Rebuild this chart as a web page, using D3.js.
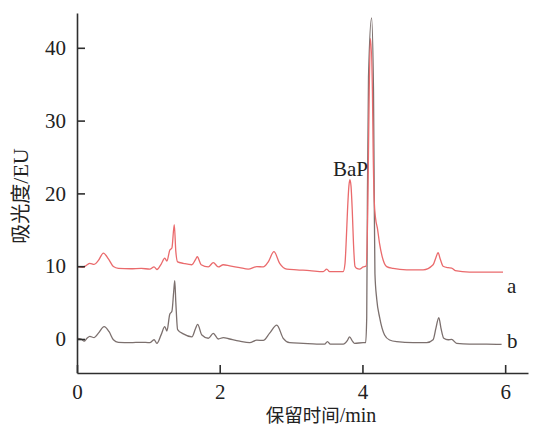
<!DOCTYPE html>
<html>
<head>
<meta charset="utf-8">
<script src="https://cdn.jsdelivr.net/npm/d3@7"></script>
<style>
  html, body { margin: 0; padding: 0; background: #ffffff; }
  svg { display: block; }
</style>
</head>
<body>
<svg id="chart" width="537" height="428"></svg>
<script>
// ---- data ----
const xTicks = [0, 2, 4, 6];
const yTicks = [0, 10, 20, 30, 40];

// trace a (red), retention time (min)
const timeA = [0.00,0.08,0.13,0.18,0.24,0.30,0.37,0.44,0.51,0.58,0.75,0.90,1.02,1.08,1.12,1.18,1.23,1.26,1.30,1.33,1.363,1.385,1.41,1.49,1.61,1.66,1.685,1.74,1.84,1.91,1.98,2.05,2.14,2.28,2.40,2.52,2.61,2.68,2.76,2.84,2.94,3.08,3.26,3.45,3.50,3.54,3.73,3.755,3.775,3.79,3.81,3.824,3.84,3.858,3.875,3.895,3.92,3.96,4.01,4.05,4.075,4.085,4.095,4.113,4.14,4.15,4.165,4.185,4.21,4.24,4.29,4.34,4.43,4.62,4.85,4.99,5.03,5.06,5.09,5.13,5.20,5.25,5.30,5.50,5.74,5.97];
const valA  = [9.95,9.85,10.1,10.4,10.25,10.8,11.8,11.0,9.95,9.7,9.65,9.7,9.6,9.9,9.55,10.3,11.1,10.7,12.2,12.5,15.7,12.0,10.6,10.4,10.2,10.9,11.3,10.2,9.9,10.5,9.9,10.2,10.05,9.8,9.6,9.95,9.9,10.6,12.0,10.4,9.6,9.5,9.4,9.25,9.6,9.25,9.25,10.3,14.0,17.5,21.0,21.9,21.0,17.5,13.0,10.0,9.7,9.6,9.9,10.0,18.0,26.0,34.0,41.3,34.0,26.0,19.0,16.5,15.2,13.1,10.85,9.95,9.7,9.5,9.5,10.2,11.2,11.85,11.0,10.0,9.8,9.75,9.4,9.2,9.2,9.2];

// trace b (grey)
const timeB = [0.00,0.06,0.10,0.14,0.18,0.24,0.30,0.38,0.45,0.51,0.58,0.75,0.90,1.02,1.08,1.12,1.18,1.23,1.26,1.30,1.33,1.355,1.37,1.385,1.41,1.49,1.61,1.66,1.69,1.75,1.84,1.91,1.98,2.05,2.14,2.28,2.42,2.52,2.61,2.70,2.80,2.89,2.98,3.17,3.36,3.47,3.51,3.55,3.73,3.79,3.82,3.86,3.89,4.01,4.045,4.06,4.07,4.085,4.128,4.155,4.165,4.175,4.20,4.24,4.31,4.38,4.48,4.71,4.90,4.99,5.03,5.07,5.10,5.14,5.20,5.25,5.32,5.50,5.74,5.95];
const valB  = [0.1,0.0,-0.3,0.1,0.35,0.2,0.8,1.7,1.0,-0.1,-0.45,-0.5,-0.45,-0.5,-0.1,-0.6,0.6,1.7,1.1,3.4,3.8,6.5,8.0,5.0,1.3,0.7,0.3,1.4,2.0,0.55,0.1,0.78,0.0,0.2,0.0,-0.3,-0.5,-0.15,-0.2,0.8,1.9,0.1,-0.5,-0.6,-0.7,-0.7,-0.35,-0.7,-0.7,-0.2,0.3,-0.3,-0.6,-0.5,-0.5,3.0,20.0,36.0,44.1,34.0,20.0,9.0,5.5,3.0,0.55,-0.14,-0.37,-0.5,-0.5,-0.1,1.5,2.95,1.5,0.1,-0.1,-0.05,-0.6,-0.7,-0.7,-0.75];

const seriesNames = ["a", "b"];
const peakLabel = "BaP";
const xTitle = ["保留时间", "/min"];
const yTitle = ["吸光度", "/EU"];

// ---- drawing ----
const svg = d3.select("#chart");
const serif = "'Liberation Serif', 'Times New Roman', serif";
const cjk = "'Noto Sans CJK SC', sans-serif";

const x = d3.scaleLinear().domain([0, 6.32]).range([77, 528]);
const y = d3.scaleLinear().domain([-4.67, 44.78]).range([373, 13]);

const axisColor = "#2e2e2e";

// lines
const line = d3.line().x(d => x(d[0])).y(d => y(d[1])).curve(d3.curveMonotoneX);
const dataA = timeA.map((t, i) => [t, valA[i]]);
const dataB = timeB.map((t, i) => [t, valB[i]]);

svg.append("path").datum(dataB)
  .attr("d", line).attr("fill", "none")
  .attr("stroke", "#7c706e").attr("stroke-width", 1.3);
svg.append("path").datum(dataA)
  .attr("d", line).attr("fill", "none")
  .attr("stroke", "#ea6a6c").attr("stroke-width", 1.3);

// axes
const fmt = d3.format("d");
const yAxis = d3.axisLeft(y).tickValues(yTicks).tickFormat(fmt).tickSizeInner(-8).tickSizeOuter(0).tickPadding(11);
const xAxis = d3.axisBottom(x).tickValues(xTicks).tickFormat(fmt).tickSizeInner(-8).tickSizeOuter(0).tickPadding(11);

const gy = svg.append("g").attr("transform", `translate(${x(0)},0)`).call(yAxis);
const gx = svg.append("g").attr("transform", `translate(0,${y.range()[0]})`).call(xAxis);

[gx, gy].forEach(g => {
  g.attr("font-family", serif).attr("font-size", 21);
  g.select(".domain").attr("stroke", axisColor).attr("stroke-width", 1.6);
  g.selectAll(".tick line").attr("stroke", axisColor).attr("stroke-width", 1.6);
  g.selectAll(".tick text").attr("fill", "#222")
    .attr("font-family", serif).style("font-family", serif).style("font-size", "21px");
});

// series labels
svg.append("text").attr("x", 507).attr("y", 293)
  .style("font-family", serif).style("font-size", "21px").attr("fill", "#222").text(seriesNames[0]);
svg.append("text").attr("x", 507).attr("y", 348)
  .style("font-family", serif).style("font-size", "21px").attr("fill", "#222").text(seriesNames[1]);

// peak label
svg.append("text").attr("x", 333).attr("y", 176)
  .style("font-family", serif).style("font-size", "21px").attr("fill", "#222").text(peakLabel);

// axis titles
const xt = svg.append("text").attr("x", 321).attr("y", 422).attr("text-anchor", "middle").attr("fill", "#222");
xt.append("tspan").style("font-family", cjk).style("font-size", "18.5px").text(xTitle[0]);
xt.append("tspan").style("font-family", serif).style("font-size", "20px").text(xTitle[1]);

const yt = svg.append("text").attr("transform", "translate(28,196) rotate(-90)")
  .attr("text-anchor", "middle").attr("fill", "#222");
yt.append("tspan").style("font-family", cjk).style("font-size", "20px").text(yTitle[0]);
yt.append("tspan").style("font-family", serif).style("font-size", "22px").text(yTitle[1]);
</script>
</body>
</html>
